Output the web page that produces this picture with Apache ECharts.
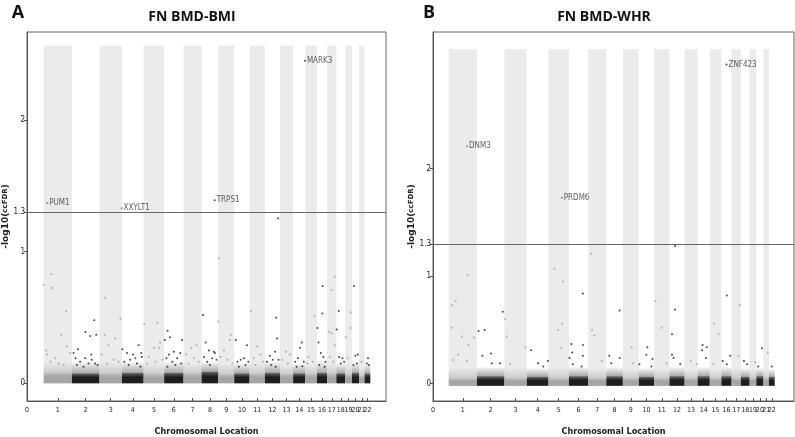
<!DOCTYPE html>
<html><head><meta charset="utf-8">
<script src="https://cdn.jsdelivr.net/npm/echarts@6/dist/echarts.min.js"></script>
<style>html,body{margin:0;padding:0;background:#fff}#c{width:795px;height:437px}</style>
</head><body><div id="c"></div>
<script>
// ---------------- data ----------------
const chromosomes = ['1','2','3','4','5','6','7','8','9','10','11','12','13','14','15','16','17','18','19','20','21','22'];
const chromLengthsMb = [249.25,243.2,198.0,191.15,180.9,171.1,159.1,146.4,141.2,135.5,135.0,133.85,115.2,107.35,102.5,90.35,81.2,78.1,59.1,63.0,48.1,51.3];
const genomeOffsetMb = 147;
const yTickValues = [0, 1, 1.3, 2];
const threshold = 1.3;
const titles = ['FN BMD-BMI', 'FN BMD-WHR'];
const panelLetters = ['A', 'B'];

// dense band near zero, per chromosome: [solid top, haze top]
const bandSolidA = [0.08,0.076,0.076,0.08,0.071,0.08,0.076,0.089,0.069,0.076,0.071,0.08,0.069,0.076,0.069,0.08,0.071,0.076,0.064,0.08,0.056,0.076];
const bandHazeA  = [0.16,0.17,0.16,0.17,0.15,0.17,0.15,0.17,0.15,0.16,0.15,0.17,0.14,0.16,0.14,0.17,0.15,0.16,0.14,0.16,0.12,0.15];
const bandSolidB = [0.05,0.07,0.05,0.065,0.05,0.07,0.05,0.07,0.05,0.065,0.05,0.07,0.05,0.07,0.05,0.07,0.05,0.065,0.05,0.07,0.05,0.065];
const bandHazeB  = [0.15,0.16,0.15,0.15,0.15,0.16,0.14,0.16,0.14,0.15,0.14,0.16,0.13,0.16,0.13,0.16,0.14,0.15,0.13,0.15,0.12,0.14];

// scattered SNPs: [chromosome, fraction along chromosome, -log10(ccFDR)]
const pointsA = [
 [1,0.0,0.75],[1,0.27,0.83],[1,0.29,0.725],[1,0.8,0.55],[1,0.62,0.37],[1,0.09,0.25],[1,0.12,0.22],[1,0.82,0.28],[1,0.41,0.19],[1,0.94,0.23],[1,0.24,0.165],[1,0.53,0.15],[1,0.71,0.14],
 [2,0.81,0.48],[2,0.49,0.39],[2,0.66,0.36],[2,0.88,0.37],[2,0.22,0.26],[2,0.06,0.23],[2,0.13,0.19],[2,0.48,0.19],[2,0.7,0.22],[2,0.72,0.18],[2,0.3,0.165],[2,0.6,0.15],[2,0.84,0.15],[2,0.18,0.14],[2,0.42,0.127],[2,0.93,0.14],
 [3,0.25,0.65],[3,0.93,0.49],[3,0.24,0.37],[3,0.7,0.34],[3,0.4,0.29],[3,0.1,0.22],[3,0.63,0.18],[3,0.33,0.15],[3,0.85,0.165],
 [4,0.02,0.26],[4,0.23,0.23],[4,0.77,0.29],[4,0.89,0.23],[4,0.51,0.22],[4,0.38,0.18],[4,0.62,0.19],[4,0.11,0.165],[4,0.92,0.2],[4,0.31,0.14],[4,0.69,0.15],[4,0.85,0.127],
 [5,0.03,0.45],[5,0.67,0.46],[5,0.5,0.27],[5,0.8,0.31],[5,0.75,0.27],[5,0.25,0.2],[5,0.58,0.165],[5,0.92,0.18],[5,0.17,0.15],
 [6,0.18,0.40],[6,0.3,0.35],[6,0.03,0.33],[6,0.92,0.33],[6,0.5,0.24],[6,0.25,0.22],[6,0.83,0.23],[6,0.12,0.19],[6,0.67,0.19],[6,0.42,0.165],[6,0.88,0.15],[6,0.58,0.14],[6,0.17,0.127],
 [7,0.43,0.27],[7,0.72,0.29],[7,0.15,0.22],[7,0.57,0.19],[7,0.85,0.165],[7,0.28,0.15],
 [8,0.08,0.52],[8,0.24,0.31],[8,0.74,0.24],[8,0.8,0.23],[8,0.44,0.25],[8,0.14,0.2],[8,0.64,0.19],[8,0.34,0.165],[8,0.9,0.18],[8,0.5,0.14],
 [9,0.04,0.95],[9,0.01,0.47],[9,0.79,0.37],[9,0.72,0.33],[9,0.36,0.25],[9,0.15,0.2],[9,0.57,0.18],[9,0.89,0.15],
 [10,0.1,0.33],[10,0.83,0.29],[10,0.42,0.18],[10,0.63,0.19],[10,0.21,0.165],[10,0.73,0.14],[10,0.31,0.127],[10,0.92,0.165],
 [11,0.09,0.55],[11,0.49,0.28],[11,0.71,0.22],[11,0.27,0.19],[11,0.89,0.165],[11,0.38,0.14],
 [12,0.75,0.5],[12,0.81,0.34],[12,0.67,0.24],[12,0.33,0.21],[12,0.52,0.18],[12,0.13,0.165],[12,0.9,0.18],[12,0.42,0.14],[12,0.71,0.127],
 [13,0.45,0.24],[13,0.76,0.22],[13,0.15,0.18],[13,0.6,0.15],
 [14,0.71,0.31],[14,0.57,0.27],[14,0.17,0.165],[14,0.76,0.13],[14,0.4,0.19],[14,0.88,0.165],[14,0.29,0.127],
 [15,0.79,0.51],[15,0.29,0.2],[15,0.64,0.165],[15,0.18,0.15],
 [16,0.56,0.74],[16,0.53,0.53],[16,0.06,0.42],[16,0.16,0.31],[16,0.38,0.23],[16,0.63,0.2],[16,0.84,0.165],[16,0.22,0.14],[16,0.75,0.127],
 [17,0.81,0.81],[17,0.48,0.71],[17,0.19,0.39],[17,0.48,0.38],[17,0.81,0.29],[17,0.3,0.2],[17,0.67,0.165],
 [18,0.27,0.55],[18,0.04,0.41],[18,0.31,0.2],[18,0.69,0.19],[18,0.5,0.15],[18,0.88,0.165],
 [19,0.85,0.54],[19,0.75,0.42],[19,0.1,0.35],[19,0.35,0.19],
 [20,0.29,0.74],[20,0.83,0.22],[20,0.5,0.21],[20,0.71,0.15],[20,0.21,0.14],
 [21,0.46,0.165],
 [22,0.4,0.15],[22,0.75,0.14],[22,0.6,0.19]
];
const pointsB = [
 [7,0.15,1.21],[5,0.29,1.07],[1,0.67,1.01],[5,0.71,0.95],[6,0.72,0.84],[16,0.53,0.82],[17,0.88,0.73],[1,0.25,0.77],[1,0.12,0.73],[12,0.37,0.69],
 [8,0.8,0.68],[11,0.09,0.77],[2,0.94,0.67],[3,0.03,0.6],[5,0.67,0.56],[15,0.36,0.56],[2,0.06,0.49],[2,0.28,0.5],[1,0.1,0.52],[1,0.46,0.44],
 [5,0.48,0.5],[7,0.21,0.5],[7,0.34,0.45],[12,0.17,0.46],[11,0.49,0.52],[15,0.75,0.46],[1,0.89,0.43],[1,0.7,0.36],[3,0.1,0.44],[6,0.12,0.37],
 [6,0.72,0.36],[14,0.41,0.36],[14,0.75,0.34],[10,0.56,0.34],[9,0.54,0.34],[4,0.19,0.31],[3,0.94,0.34],[5,0.63,0.33],[6,0.17,0.29],[6,0.72,0.26],
 [6,0.03,0.24],[2,0.51,0.28],[2,0.2,0.26],[10,0.49,0.27],[10,0.89,0.23],[12,0.17,0.27],[12,0.27,0.24],[14,0.36,0.31],[14,0.68,0.24],[16,0.13,0.21],
 [16,0.87,0.26],[17,0.73,0.26],[18,0.36,0.21],[20,0.78,0.33],[21,0.8,0.29],[19,0.85,0.2],[8,0.18,0.26],[8,0.8,0.24],[8,0.3,0.19],[4,0.76,0.16],
 [4,0.97,0.21],[4,0.52,0.19],[2,0.84,0.19],[2,0.54,0.19],[3,0.25,0.18],[1,0.16,0.22],[1,0.34,0.27],[1,0.64,0.21],[9,0.64,0.19],[10,0.04,0.18],
 [10,0.82,0.16],[11,0.82,0.19],[12,0.71,0.18],[13,0.47,0.21],[13,0.94,0.18],[16,0.53,0.18],[18,0.71,0.18],[20,0.26,0.16],[22,0.5,0.16],[15,0.32,0.18],
 [7,0.75,0.21],[6,0.21,0.18],[6,0.65,0.16]
];
// top hits: [chromosome, fraction, value, gene label]
const hitsA = [[1,0.126,1.37,'PUM1'],[3,0.984,1.33,'XXYLT1'],[8,0.79,1.39,'TRPS1'],[12,0.87,1.255,''],[14,0.967,2.45,'MARK3']];
const hitsB = [[1,0.65,2.21,'DNM3'],[5,0.65,1.73,'PRDM6'],[16,0.5,2.97,'ZNF423'],[12,0.37,1.28,'']];

// ---------------- helpers ----------------
const chromStart = [];
let acc = genomeOffsetMb;
chromLengthsMb.forEach(l => { chromStart.push(acc); acc += l; });
const chromCenter = chromStart.map((s, i) => Math.round((s + chromLengthsMb[i] / 2) * 100) / 100);
const toX = (c, f) => chromStart[c - 1] + f * chromLengthsMb[c - 1];

const NARROW = '"Liberation Sans Narrow","DejaVu Sans Condensed",sans-serif';
const panels = [
  {grid:{left:27, top:32, width:359, height:369}, xMin:0, xMax:3166, yMin:-0.134, yMax:2.669, colTop:2.565, base:0,
   solid:bandSolidA, haze:bandHazeA, pts:pointsA, hits:hitsA},
  {grid:{left:433, top:32, width:361, height:369}, xMin:8.3, xMax:3198.5, yMin:-0.161, yMax:3.272, colTop:3.113, base:-0.02,
   solid:bandSolidB, haze:bandHazeB, pts:pointsB, hits:hitsB}
];

function colRender(params, api) {
  const a = api.coord([api.value(0), api.value(3)]);
  const b = api.coord([api.value(1), api.value(2)]);
  return {type:'rect', shape:{x:a[0], y:a[1], width:b[0]-a[0], height:b[1]-a[1]}, style:{fill:'#ebebeb'}};
}
function bandRender(params, api) {
  const x0 = api.value(0), x1 = api.value(1), base = api.value(2), solid = api.value(3), haze = api.value(4), even = api.value(5);
  const pH = api.coord([x0, haze]), pS = api.coord([x1, solid]), pB = api.coord([x1, base]);
  const w = pB[0] - pH[0];
  const rgb = even ? '30,30,30' : '165,165,165';
  const hz = even ? '110,110,110' : '180,180,180';
  return {type:'group', children:[
    {type:'rect', shape:{x:pH[0], y:pH[1], width:w, height:pS[1]-pH[1]},
     style:{fill:{type:'linear', x:0, y:0, x2:0, y2:1, colorStops:[{offset:0, color:'rgba('+hz+',0)'},{offset:1, color:'rgba('+hz+',0.6)'}]}}},
    {type:'rect', shape:{x:pH[0], y:pS[1], width:w, height:pB[1]-pS[1]},
     style:{fill:{type:'linear', x:0, y:0, x2:0, y2:1, colorStops:[{offset:0, color:'rgba('+rgb+',0.65)'},{offset:0.4, color:'rgba('+rgb+',1)'},{offset:1, color:'rgba('+rgb+',1)'}]}}}
  ]};
}

const grids = [], xAxes = [], yAxes = [], series = [];
panels.forEach((p, k) => {
  grids.push(Object.assign({show:true, borderColor:'#666', borderWidth:1, backgroundColor:'transparent', containLabel:false, outerBoundsMode:'none'}, p.grid));
  const xMin = p.xMin, xMax = p.xMax;
  xAxes.push({
    type:'value', gridIndex:k, min:p.xMin, max:p.xMax,
    axisLine:{show:true, onZero:false, lineStyle:{color:'#555', width:1}},
    axisTick:{show:true, inside:true, length:3, lineStyle:{color:'#555'}, customValues:chromCenter},
    axisLabel:{show:true, fontSize:7, fontFamily:NARROW, color:'#222', margin:6, hideOverlap:false, showMinLabel:true, showMaxLabel:true,
      // an empty label at the axis end keeps the max-label rule from dropping "21"
      customValues:[xMin].concat(chromCenter, [xMax]),
      formatter: v => { if (Math.abs(v - xMin) < 0.5) return '0'; const i = chromCenter.findIndex(c => Math.abs(c - v) < 0.5); return i >= 0 ? chromosomes[i] : ''; }},
    splitLine:{show:false},
    name:'Chromosomal Location', nameLocation:'middle', nameGap:26,
    nameTextStyle:{fontFamily:NARROW, fontWeight:'bold', fontSize:9, color:'#222'}
  });
  yAxes.push({
    type:'value', gridIndex:k, min:p.yMin, max:p.yMax,
    axisLine:{show:true, onZero:false, lineStyle:{color:'#555', width:1}},
    axisTick:{show:true, length:3, lineStyle:{color:'#555'}, customValues:yTickValues},
    axisLabel:{show:true, fontSize:8, fontFamily:NARROW, color:'#222', margin:2, customValues:yTickValues,
      formatter: v => String(v)},
    splitLine:{show:false},
    name:'{a|-log10(}{b|ccFDR}{a|)}', nameLocation:'middle', nameRotate:90, nameGap:12,
    nameTextStyle:{rich:{a:{fontFamily:'"DejaVu Sans",sans-serif', fontWeight:'bold', fontSize:9, color:'#222'},
                         b:{fontFamily:'"DejaVu Sans",sans-serif', fontWeight:'bold', fontSize:7, color:'#222'}}}
  });
  // odd chromosome background columns
  const cols = [];
  chromosomes.forEach((c, i) => { if (i % 2 === 0) cols.push([chromStart[i], chromStart[i] + chromLengthsMb[i], p.base, p.colTop]); });
  series.push({type:'custom', xAxisIndex:k, yAxisIndex:k, renderItem:colRender, data:cols, z:0, silent:true, clip:true});
  // dense band
  const band = chromosomes.map((c, i) => [chromStart[i], chromStart[i] + chromLengthsMb[i], p.base, p.solid[i], p.haze[i], i % 2]);
  series.push({type:'custom', xAxisIndex:k, yAxisIndex:k, renderItem:bandRender, data:band, z:1, silent:true, clip:true});
  // scattered points
  const odd = p.pts.filter(d => d[0] % 2 === 1).map(d => [toX(d[0], d[1]), d[2]]);
  const even = p.pts.filter(d => d[0] % 2 === 0).map(d => [toX(d[0], d[1]), d[2]]);
  series.push({type:'scatter', xAxisIndex:k, yAxisIndex:k, data:odd, symbolSize:2, itemStyle:{color:'#9c9c9c'}, z:2, silent:true});
  series.push({type:'scatter', xAxisIndex:k, yAxisIndex:k, data:even, symbolSize:2, itemStyle:{color:'#1a1a1a'}, z:2, silent:true});
  // hits + threshold
  series.push({type:'scatter', xAxisIndex:k, yAxisIndex:k, z:3, silent:true, symbolSize:2,
    data:p.hits.map(h => ({value:[toX(h[0], h[1]), h[2]], name:h[3], itemStyle:{color: h[0] % 2 ? '#777' : '#222'}})),
    label:{show:true, position:'right', distance:1, fontSize:8, fontFamily:NARROW, color:'#333', formatter: q => q.name},
    markLine:{silent:true, symbol:'none', label:{show:false}, lineStyle:{color:'#666', width:1, type:'solid'}, data:[{yAxis:threshold}]}
  });
});

const graphics = [
  {type:'text', x:18, y:13, style:{text:panelLetters[0], font:'bold 18px "Open Sans",sans-serif', fill:'#111', textAlign:'center', textVerticalAlign:'middle'}},
  {type:'text', x:429, y:13, style:{text:panelLetters[1], font:'bold 18px "Open Sans",sans-serif', fill:'#111', textAlign:'center', textVerticalAlign:'middle'}},
  {type:'text', x:192, y:17, style:{text:titles[0], font:'bold 14px "Open Sans",sans-serif', fill:'#111', textAlign:'center', textVerticalAlign:'middle'}},
  {type:'text', x:604, y:17, style:{text:titles[1], font:'bold 14px "Open Sans",sans-serif', fill:'#111', textAlign:'center', textVerticalAlign:'middle'}}
];

const chart = echarts.init(document.getElementById('c'), null, {renderer:'canvas'});
chart.setOption({animation:false, backgroundColor:'#fff', grid:grids, xAxis:xAxes, yAxis:yAxes, series:series, graphic:graphics});
</script></body></html>
